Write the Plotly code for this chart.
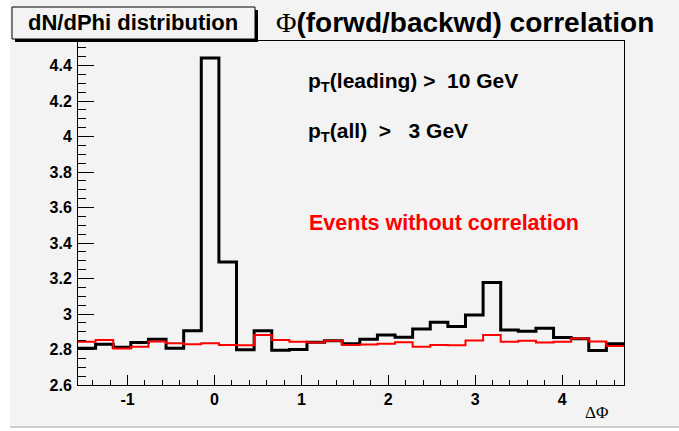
import numpy as np
import plotly.graph_objects as go

# ---- data ----
phi_min = -np.pi / 2
phi_max = 3 * np.pi / 2
n_bins = 31
bin_edges = np.linspace(phi_min, phi_max, n_bins + 1)

dndphi_all = [2.807, 2.830, 2.813, 2.839, 2.858, 2.807, 2.905, 4.442, 3.293, 2.798,
              2.905, 2.796, 2.800, 2.841, 2.849, 2.832, 2.858, 2.881, 2.869, 2.915,
              2.953, 2.930, 2.995, 3.178, 2.910, 2.903, 2.920, 2.867, 2.860, 2.794,
              2.832]
dndphi_uncorr = [2.843, 2.854, 2.805, 2.816, 2.845, 2.835, 2.830, 2.835, 2.826, 2.824,
                 2.882, 2.854, 2.843, 2.839, 2.849, 2.826, 2.828, 2.833, 2.841, 2.816,
                 2.825, 2.824, 2.850, 2.881, 2.843, 2.849, 2.839, 2.843, 2.862, 2.845,
                 2.820]

y_tickvals = [2.6, 2.8, 3.0, 3.2, 3.4, 3.6, 3.8, 4.0, 4.2, 4.4]
y_ticktext = ["2.6", "2.8", "3", "3.2", "3.4", "3.6", "3.8", "4", "4.2", "4.4"]
x_tickvals = [-1, 0, 1, 2, 3, 4]
x_ticktext = ["-1", "0", "1", "2", "3", "4"]
y_range = [2.6, 4.538]

# ---- layout geometry (pixels) ----
W, H = 679, 431
L, R, T, B = 78, 55, 41, 46
PW, PH = W - L - R, H - T - B


def px(x):
    return (x - L) / PW


def py(y):
    return (H - B - y) / PH


BG = "#f3f3f3"
FONT = "Liberation Sans"

fig = go.Figure()
fig.add_trace(go.Scatter(
    x=bin_edges, y=list(dndphi_all) + [dndphi_all[-1]],
    mode="lines", line=dict(color="black", width=3, shape="hv"),
    hoverinfo="skip", showlegend=False))
fig.add_trace(go.Scatter(
    x=bin_edges, y=list(dndphi_uncorr) + [dndphi_uncorr[-1]],
    mode="lines", line=dict(color="#ff0000", width=2, shape="hv"),
    hoverinfo="skip", showlegend=False))

fig.update_layout(
    width=W, height=H,
    margin=dict(l=L, r=R, t=T, b=B, pad=0),
    paper_bgcolor="white", plot_bgcolor=BG,
    showlegend=False,
)
fig.update_xaxes(
    range=[phi_min, phi_max], showgrid=False, zeroline=False,
    showline=True, linecolor="black", linewidth=1, mirror=True,
    ticks="inside", ticklen=10, tickwidth=1, tickcolor="black",
    tickvals=x_tickvals, ticktext=["<b>%s</b>" % t for t in x_ticktext],
    tickfont=dict(family=FONT, size=16, color="black"),
    minor=dict(ticks="inside", ticklen=5, tickwidth=1, tickcolor="black",
               dtick=0.2, tick0=0, showgrid=False),
)
fig.update_yaxes(
    range=y_range, showgrid=False, zeroline=False,
    showline=True, linecolor="black", linewidth=1, mirror=True,
    ticks="inside", ticklen=16, tickwidth=1, tickcolor="black",
    tickvals=y_tickvals, ticktext=["<b>%s</b>" % t for t in y_ticktext],
    tickfont=dict(family=FONT, size=16, color="black"),
    ticklabelstandoff=2,
    minor=dict(ticks="inside", ticklen=8, tickwidth=1, tickcolor="black",
               dtick=0.05, tick0=2.6, showgrid=False),
)

shapes = [
    # canvas background
    dict(type="rect", xref="paper", yref="paper", layer="below",
         x0=px(10), x1=px(W + 5), y0=py(427), y1=py(-5),
         fillcolor=BG, line=dict(width=0)),
    dict(type="line", xref="paper", yref="paper", layer="below",
         x0=px(10), x1=px(W + 5), y0=py(427), y1=py(427),
         line=dict(color="#a0a0a0", width=1)),
    # title box shadow
    dict(type="rect", xref="paper", yref="paper",
         x0=px(15), x1=px(258), y0=py(42), y1=py(10),
         fillcolor="black", line=dict(width=0)),
    # title box
    dict(type="rect", xref="paper", yref="paper",
         x0=px(12), x1=px(255), y0=py(39), y1=py(7),
         fillcolor=BG, line=dict(color="black", width=1)),
]
fig.update_layout(shapes=shapes)

ann = [
    dict(text="<b>dN/dPhi distribution</b>", x=px(133), y=py(23),
         xanchor="center", yanchor="middle",
         font=dict(family=FONT, size=22, color="black")),
    dict(text="<span style='font-family:Liberation Serif;font-weight:normal'>\u03a6</span>"
              "<b>(forwd/backwd) correlation</b>",
         x=px(274), y=py(23), xanchor="left", yanchor="middle",
         font=dict(family=FONT, size=28, color="black")),
    dict(text="<b>p<sub>T</sub>(leading) >\u00a0 10 GeV</b>", x=px(306), y=py(82),
         xanchor="left", yanchor="middle",
         font=dict(family=FONT, size=21, color="black")),
    dict(text="<b>p<sub>T</sub>(all)\u00a0 >\u00a0\u00a0 3 GeV</b>", x=px(306), y=py(132),
         xanchor="left", yanchor="middle",
         font=dict(family=FONT, size=21, color="black")),
    dict(text="<b>Events without correlation</b>", x=px(307), y=py(223),
         xanchor="left", yanchor="middle",
         font=dict(family=FONT, size=21.5, color="#ff0000")),
    dict(text="\u0394\u03a6", x=px(610), y=py(412),
         xanchor="right", yanchor="middle",
         font=dict(family="Liberation Serif", size=17, color="black")),
]
for a in ann:
    a.update(xref="paper", yref="paper", showarrow=False)
fig.update_layout(annotations=ann)

fig.write_html("out.html")
